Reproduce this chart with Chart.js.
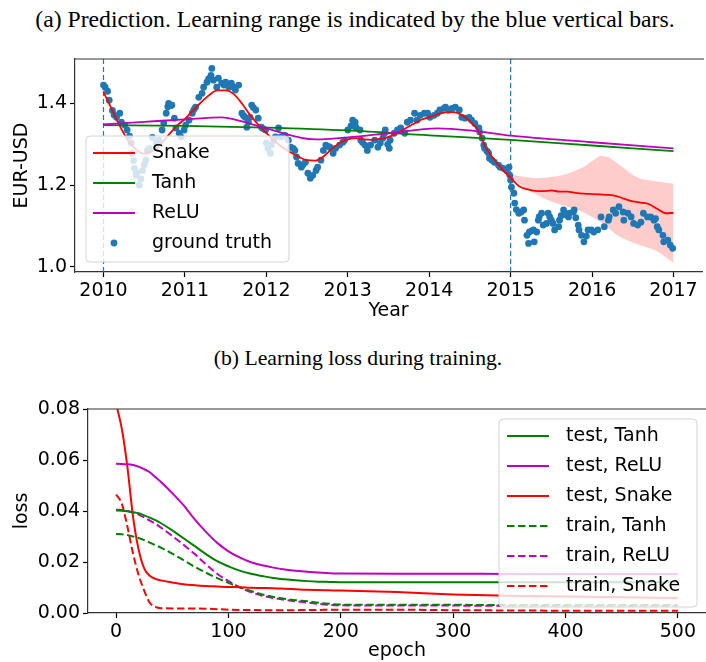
<!DOCTYPE html>
<html>
<head>
<meta charset="utf-8">
<title>Snake activation – EUR-USD</title>
<script src="https://cdn.jsdelivr.net/npm/chart.js@4.4.1/dist/chart.umd.min.js"></script>
<style>
  body { margin: 0; width: 706px; height: 662px; overflow: hidden; background: #fff; position: relative; }
  .caption { position: absolute; width: 706px; text-align: center; white-space: nowrap;
             font-family: 'Liberation Serif', 'Times New Roman', serif; color: #000; }
  #captionA { left: 2px; top: 8px; font-size: 23.7px; line-height: 23.7px; }
  #captionB { left: 5px; top: 348px; font-size: 21.7px; line-height: 21.7px; }
  canvas { position: absolute; left: 0; }
</style>
</head>
<body>
<div class="caption" id="captionA">(a) Prediction. Learning range is indicated by the blue vertical bars.</div>
<canvas id="priceChart" width="706" height="330" style="top:0"></canvas>
<div class="caption" id="captionB">(b) Learning loss during training.</div>
<canvas id="lossChart" width="706" height="282" style="top:380px"></canvas>
<script>
// ---------- (a) EUR-USD prediction ----------
const truthYears = [
  2010.00, 2010.02, 2010.05, 2010.07, 2010.11, 2010.13, 2010.16, 2010.20, 2010.22, 2010.26,
  2010.29, 2010.32, 2010.34, 2010.35, 2010.37, 2010.38, 2010.40, 2010.41, 2010.44, 2010.46,
  2010.48, 2010.50, 2010.52, 2010.54, 2010.56, 2010.60, 2010.65, 2010.68, 2010.72, 2010.74,
  2010.77, 2010.79, 2010.80, 2010.83, 2010.84, 2010.87, 2010.89, 2010.93, 2010.95, 2010.99,
  2011.01, 2011.05, 2011.09, 2011.11, 2011.13, 2011.17, 2011.21, 2011.23, 2011.27, 2011.29,
  2011.32, 2011.33, 2011.35, 2011.39, 2011.41, 2011.45, 2011.48, 2011.50, 2011.54, 2011.57,
  2011.60, 2011.62, 2011.66, 2011.70, 2011.72, 2011.74, 2011.76, 2011.78, 2011.80, 2011.82,
  2011.84, 2011.87, 2011.90, 2011.94, 2011.96, 2011.99, 2012.00, 2012.02, 2012.05, 2012.06,
  2012.09, 2012.11, 2012.15, 2012.18, 2012.21, 2012.23, 2012.27, 2012.30, 2012.33, 2012.35,
  2012.37, 2012.39, 2012.43, 2012.45, 2012.48, 2012.51, 2012.54, 2012.57, 2012.61, 2012.63,
  2012.67, 2012.70, 2012.73, 2012.76, 2012.78, 2012.82, 2012.85, 2012.90, 2012.94, 2012.96,
  2013.00, 2013.04, 2013.06, 2013.09, 2013.10, 2013.15, 2013.16, 2013.18, 2013.21, 2013.24,
  2013.28, 2013.33, 2013.37, 2013.40, 2013.43, 2013.45, 2013.46, 2013.49, 2013.51, 2013.52,
  2013.57, 2013.61, 2013.65, 2013.70, 2013.73, 2013.77, 2013.82, 2013.85, 2013.89, 2013.94,
  2013.98, 2014.01, 2014.06, 2014.10, 2014.13, 2014.18, 2014.20, 2014.24, 2014.28, 2014.32,
  2014.37, 2014.40, 2014.44, 2014.49, 2014.52, 2014.56, 2014.61, 2014.62, 2014.65, 2014.67,
  2014.68, 2014.71, 2014.73, 2014.74, 2014.77, 2014.80, 2014.85, 2014.87, 2014.91, 2014.95,
  2014.98, 2014.99, 2015.00, 2015.01, 2015.04, 2015.05, 2015.07, 2015.10, 2015.13, 2015.16,
  2015.17, 2015.20, 2015.22, 2015.23, 2015.26, 2015.28, 2015.29, 2015.32, 2015.34, 2015.35,
  2015.38, 2015.40, 2015.44, 2015.46, 2015.48, 2015.50, 2015.52, 2015.54, 2015.59, 2015.60,
  2015.62, 2015.65, 2015.68, 2015.71, 2015.72, 2015.77, 2015.78, 2015.80, 2015.83, 2015.84,
  2015.87, 2015.90, 2015.93, 2015.95, 2015.99, 2016.02, 2016.07, 2016.11, 2016.15, 2016.20,
  2016.21, 2016.26, 2016.29, 2016.33, 2016.38, 2016.39, 2016.44, 2016.48, 2016.51, 2016.56,
  2016.60, 2016.63, 2016.68, 2016.72, 2016.76, 2016.78, 2016.80, 2016.82, 2016.87, 2016.88,
  2016.93, 2016.96, 2016.99
];
const truthRates = [
  1.445, 1.440, 1.430, 1.408, 1.383, 1.372, 1.366, 1.376, 1.354, 1.347,
  1.335, 1.320, 1.303, 1.278, 1.260, 1.241, 1.225, 1.229, 1.200, 1.215,
  1.236, 1.250, 1.261, 1.285, 1.290, 1.317, 1.305, 1.310, 1.335, 1.352,
  1.376, 1.392, 1.400, 1.395, 1.396, 1.364, 1.340, 1.327, 1.318, 1.335,
  1.347, 1.359, 1.376, 1.385, 1.391, 1.415, 1.425, 1.440, 1.452, 1.460,
  1.469, 1.486, 1.457, 1.440, 1.462, 1.450, 1.445, 1.452, 1.440, 1.450,
  1.440, 1.433, 1.445, 1.376, 1.370, 1.366, 1.342, 1.355, 1.366, 1.396,
  1.390, 1.384, 1.364, 1.342, 1.338, 1.335, 1.303, 1.290, 1.278, 1.298,
  1.310, 1.318, 1.340, 1.318, 1.320, 1.322, 1.310, 1.293, 1.290, 1.285,
  1.269, 1.253, 1.244, 1.250, 1.256, 1.229, 1.217, 1.224, 1.236, 1.244,
  1.261, 1.285, 1.298, 1.295, 1.293, 1.278, 1.290, 1.298, 1.305, 1.310,
  1.335, 1.345, 1.359, 1.354, 1.342, 1.335, 1.310, 1.305, 1.298, 1.285,
  1.298, 1.310, 1.293, 1.303, 1.315, 1.327, 1.335, 1.300, 1.290, 1.310,
  1.327, 1.335, 1.340, 1.327, 1.354, 1.359, 1.376, 1.359, 1.371, 1.376,
  1.376, 1.366, 1.371, 1.376, 1.384, 1.388, 1.391, 1.384, 1.388, 1.391,
  1.384, 1.366, 1.364, 1.366, 1.359, 1.351, 1.340, 1.330, 1.315, 1.298,
  1.290, 1.283, 1.278, 1.266, 1.261, 1.256, 1.249, 1.244, 1.241, 1.236,
  1.244, 1.224, 1.212, 1.195, 1.180, 1.156, 1.140, 1.131, 1.134, 1.139,
  1.114, 1.077, 1.057, 1.085, 1.088, 1.090, 1.061, 1.085, 1.114, 1.122,
  1.131, 1.102, 1.106, 1.131, 1.122, 1.114, 1.106, 1.090, 1.098, 1.114,
  1.125, 1.139, 1.127, 1.122, 1.131, 1.134, 1.139, 1.120, 1.102, 1.090,
  1.077, 1.061, 1.075, 1.090, 1.090, 1.085, 1.090, 1.122, 1.098, 1.114,
  1.122, 1.139, 1.131, 1.147, 1.134, 1.114, 1.131, 1.122, 1.106, 1.102,
  1.109, 1.131, 1.122, 1.122, 1.114, 1.118, 1.098, 1.090, 1.077, 1.061,
  1.065, 1.053, 1.045
];

const snakeYears = [
  2010.0, 2010.1, 2010.2, 2010.3, 2010.4, 2010.5, 2010.6, 2010.7, 2010.8, 2010.9,
  2011.0, 2011.1, 2011.2, 2011.3, 2011.4, 2011.5, 2011.6, 2011.7, 2011.8, 2011.9,
  2012.0, 2012.1, 2012.2, 2012.3, 2012.4, 2012.5, 2012.6, 2012.7, 2012.8, 2012.9,
  2013.0, 2013.1, 2013.2, 2013.3, 2013.4, 2013.5, 2013.6, 2013.7, 2013.8, 2013.9,
  2014.0, 2014.1, 2014.2, 2014.3, 2014.4, 2014.5, 2014.6, 2014.7, 2014.8, 2014.9,
  2015.0, 2015.1, 2015.2, 2015.3, 2015.4, 2015.5, 2015.6, 2015.7, 2015.8, 2015.9,
  2016.0, 2016.1, 2016.2, 2016.3, 2016.4, 2016.5, 2016.6, 2016.7, 2016.8, 2016.9,
  2017.0
];
const snakeRates = [
  1.428, 1.387, 1.345, 1.310, 1.287, 1.277, 1.283, 1.300, 1.323, 1.345,
  1.362, 1.383, 1.403, 1.421, 1.432, 1.432, 1.423, 1.400, 1.372, 1.348,
  1.328, 1.308, 1.292, 1.280, 1.269, 1.261, 1.260, 1.270, 1.288, 1.303,
  1.312, 1.315, 1.312, 1.311, 1.313, 1.318, 1.326, 1.338, 1.349, 1.360,
  1.367, 1.373, 1.378, 1.379, 1.372, 1.356, 1.334, 1.290, 1.262, 1.238,
  1.218, 1.198, 1.190, 1.186, 1.185, 1.187, 1.184, 1.184, 1.181, 1.179,
  1.178, 1.177, 1.176, 1.173, 1.166, 1.160, 1.157, 1.153, 1.142, 1.131,
  1.132
];

const bandYears = [
  2015.0, 2015.1, 2015.2, 2015.3, 2015.4, 2015.5, 2015.6, 2015.7, 2015.8, 2015.9,
  2016.0, 2016.1, 2016.2, 2016.3, 2016.4, 2016.5, 2016.6, 2016.7, 2016.8, 2016.9,
  2017.0
];
const bandUpper = [
  1.226, 1.222, 1.219, 1.217, 1.218, 1.220, 1.223, 1.228, 1.236, 1.245,
  1.259, 1.272, 1.269, 1.255, 1.240, 1.225, 1.215, 1.212, 1.209, 1.206,
  1.204
];
const bandLower = [
  1.222, 1.205, 1.190, 1.178, 1.168, 1.160, 1.153, 1.147, 1.141, 1.133,
  1.122, 1.110, 1.095, 1.078, 1.067, 1.059, 1.052, 1.046, 1.038, 1.024,
  1.009
];

const tanhYears = [2010, 2011, 2012, 2013, 2014, 2015, 2016, 2017];
const tanhRates = [1.347, 1.345, 1.341, 1.334, 1.322, 1.311, 1.297, 1.283];

const reluYears = [2010, 2010.5, 2011, 2011.45, 2011.7, 2012, 2012.6, 2013, 2013.5, 2014.1, 2014.5, 2015, 2016, 2017];
const reluRates = [1.349, 1.355, 1.361, 1.366, 1.356, 1.339, 1.312, 1.317, 1.327, 1.339, 1.334, 1.321, 1.305, 1.290];

const learningRange = [2010, 2015];
const yearTicks = [2010, 2011, 2012, 2013, 2014, 2015, 2016, 2017];
const rateTicks = [1.0, 1.2, 1.4];
const yearLimits = [2009.65, 2017.35];
const rateLimits = [0.987, 1.509];

// ---------- (b) loss curves ----------
const epochs = [0, 5, 10, 15, 20, 25, 30, 35, 40, 50, 60, 70, 80, 90, 100, 110, 120, 130, 140, 150,
                160, 170, 180, 190, 200, 250, 300, 350, 400, 450, 500];
const testTanh = [0.0402, 0.0401, 0.0399, 0.0395, 0.0391, 0.0383, 0.0374, 0.0364, 0.0352, 0.0324,
                  0.0293, 0.0262, 0.0231, 0.0203, 0.0183, 0.0166, 0.0154, 0.0145, 0.0137, 0.0132,
                  0.0128, 0.0125, 0.0123, 0.0122, 0.0121, 0.0121, 0.0121, 0.0121, 0.0121, 0.0121, 0.0121];
const testRelu = [0.0585, 0.0584, 0.0583, 0.0580, 0.0574, 0.0564, 0.0552, 0.0533, 0.0514, 0.0470,
                  0.0423, 0.0367, 0.0318, 0.0275, 0.0242, 0.0218, 0.0199, 0.0187, 0.0178, 0.0171,
                  0.0166, 0.0162, 0.0159, 0.0156, 0.0155, 0.0154, 0.0154, 0.0153, 0.0153, 0.0153, 0.0153];
const testSnake = [0.0820, 0.0725, 0.0575, 0.0380, 0.0250, 0.0175, 0.0146, 0.0134, 0.0128, 0.0120,
                   0.0113, 0.0109, 0.0106, 0.0104, 0.0102, 0.0101, 0.0099, 0.0098, 0.0097, 0.0095,
                   0.0093, 0.0091, 0.0090, 0.0089, 0.0088, 0.0082, 0.0073, 0.0068, 0.0065, 0.0062, 0.0059];
const trainTanh = [0.0310, 0.0309, 0.0306, 0.0300, 0.0294, 0.0286, 0.0276, 0.0266, 0.0256, 0.0233,
                   0.0207, 0.0181, 0.0158, 0.0137, 0.0118, 0.0101, 0.0086, 0.0073, 0.0063, 0.0056,
                   0.0050, 0.0046, 0.0040, 0.0036, 0.0033, 0.0032, 0.0032, 0.0031, 0.0031, 0.0031, 0.0031];
const trainRelu = [0.0405, 0.0404, 0.0400, 0.0394, 0.0386, 0.0375, 0.0362, 0.0350, 0.0335, 0.0302,
                   0.0268, 0.0231, 0.0191, 0.0154, 0.0125, 0.0101, 0.0082, 0.0068, 0.0059, 0.0052,
                   0.0046, 0.0041, 0.0036, 0.0032, 0.0030, 0.0029, 0.0029, 0.0028, 0.0028, 0.0028, 0.0028];
const trainSnake = [0.0465, 0.0430, 0.0340, 0.0235, 0.0150, 0.0088, 0.0040, 0.0024, 0.0019, 0.0018,
                    0.0018, 0.0018, 0.0017, 0.0015, 0.0013, 0.0012, 0.0012, 0.0011, 0.0011, 0.0011,
                    0.0011, 0.0012, 0.0012, 0.0013, 0.0013, 0.0013, 0.0011, 0.0010, 0.0009, 0.0009, 0.0009];
const epochTicks = [0, 100, 200, 300, 400, 500];
const lossTicks = [0.00, 0.02, 0.04, 0.06, 0.08];
const epochLimits = [-25, 525];
const lossLimits = [0, 0.08];

// ---------- shared styling ----------
const FONT = "'DejaVu Sans', 'Liberation Sans', sans-serif";
const SPINE = '#333';
const BLUE = '#1f77b4', RED = '#ff0000', GREEN = '#008000', MAGENTA = '#bf00bf';

const pairs = (xs, ys) => xs.map((x, i) => ({ x: x, y: ys[i] }));

// top spine of the axes frame (matplotlib style)
const frameTop = {
  id: 'frameTop',
  afterDatasetsDraw(chart) {
    const { ctx, chartArea: a } = chart;
    ctx.save();
    ctx.strokeStyle = SPINE;
    ctx.lineWidth = 1.2;
    ctx.beginPath();
    ctx.moveTo(a.left, a.top);
    ctx.lineTo(a.right + 2, a.top);
    ctx.stroke();
    ctx.restore();
  }
};

// boxed legend drawn inside the plot, semi transparent like matplotlib
const boxLegend = {
  id: 'boxLegend',
  afterDatasetsDraw(chart, args, o) {
    const ctx = chart.ctx;
    ctx.save();
    ctx.beginPath();
    ctx.roundRect(o.x, o.y, o.w, o.h, 4);
    ctx.fillStyle = 'rgba(255,255,255,0.8)';
    ctx.fill();
    ctx.strokeStyle = '#d4d4d4';
    ctx.lineWidth = 1;
    ctx.stroke();
    ctx.font = '19px ' + FONT;
    ctx.textBaseline = 'middle';
    o.labels.forEach((label, i) => {
      const ds = chart.data.datasets.find(d => d.label === label);
      const y = o.firstRow + i * o.rowGap;
      if (ds.showLine) {
        ctx.strokeStyle = ds.borderColor;
        ctx.lineWidth = ds.borderWidth;
        ctx.setLineDash(ds.borderDash || []);
        ctx.beginPath();
        ctx.moveTo(o.sampleX, y);
        ctx.lineTo(o.sampleX + o.sampleW, y);
        ctx.stroke();
        ctx.setLineDash([]);
      } else {
        ctx.fillStyle = ds.backgroundColor;
        ctx.beginPath();
        ctx.arc(o.sampleX + o.sampleW / 2, y, ds.pointRadius, 0, Math.PI * 2);
        ctx.fill();
      }
      ctx.fillStyle = '#000';
      ctx.fillText(label, o.textX, y);
    });
    ctx.restore();
  }
};

function axis(limits, ticks, fmt, size, title, titlePad) {
  const horizontal = size.height !== undefined;
  return {
    type: 'linear',
    min: limits[0],
    max: limits[1],
    afterBuildTicks: s => { s.ticks = ticks.map(v => ({ value: v })); },
    afterFit: s => { if (horizontal) s.height = size.height; else s.width = size.width; },
    ticks: {
      font: { family: FONT, size: 19 },
      color: '#000',
      padding: 3,
      maxRotation: 0,
      minRotation: 0,
      autoSkip: false,
      callback: fmt
    },
    grid: { drawOnChartArea: false, drawTicks: true, tickLength: 5, tickColor: '#000', tickWidth: 1.2 },
    border: { display: true, color: SPINE, width: 1.2 },
    title: {
      display: true,
      text: title,
      color: '#000',
      font: { family: FONT, size: 19 },
      padding: titlePad
    }
  };
}

function vline(x) {
  return {
    label: 'learning bound ' + x,
    data: [{ x: x, y: rateLimits[0] }, { x: x, y: rateLimits[1] }],
    showLine: true,
    borderColor: BLUE,
    borderWidth: 1.2,
    borderDash: [5, 3],
    pointRadius: 0,
    order: 3
  };
}

function line(label, xs, ys, color, width, order, dash) {
  return {
    label: label,
    data: pairs(xs, ys),
    showLine: true,
    borderColor: color,
    borderWidth: width,
    borderDash: dash || [],
    pointRadius: 0,
    cubicInterpolationMode: 'monotone',
    order: order
  };
}

new Chart(document.getElementById('priceChart'), {
  type: 'scatter',
  data: {
    datasets: [
      line('Snake', snakeYears, snakeRates, RED, 1.8, 2),
      line('Tanh', tanhYears, tanhRates, GREEN, 1.8, 1),
      line('ReLU', reluYears, reluRates, MAGENTA, 1.8, 0),
      vline(learningRange[0]),
      vline(learningRange[1]),
      {
        label: 'ground truth',
        data: pairs(truthYears, truthRates),
        showLine: false,
        backgroundColor: BLUE,
        borderWidth: 0,
        pointRadius: 3.4,
        order: 4
      },
      {
        label: 'Snake band upper',
        data: pairs(bandYears, bandUpper),
        showLine: true,
        borderWidth: 0,
        borderColor: 'rgba(0,0,0,0)',
        pointRadius: 0,
        fill: false,
        order: 5
      },
      {
        label: 'Snake band lower',
        data: pairs(bandYears, bandLower),
        showLine: true,
        borderWidth: 0,
        borderColor: 'rgba(0,0,0,0)',
        backgroundColor: 'rgba(255,0,0,0.2)',
        pointRadius: 0,
        fill: '-1',
        order: 5
      }
    ]
  },
  options: {
    responsive: false,
    animation: false,
    layout: { padding: { top: 59, left: 0, right: 0, bottom: 0 } },
    scales: {
      x: axis(yearLimits, yearTicks, v => String(v), { height: 58 }, 'Year', { top: 0, bottom: 8 }),
      y: axis(rateLimits, rateTicks, v => v.toFixed(1), { width: 75 }, 'EUR-USD', { top: 11, bottom: 0 })
    },
    plugins: {
      legend: { display: false },
      tooltip: { enabled: false },
      boxLegend: {
        x: 86, y: 136, w: 203, h: 126,
        sampleX: 93, sampleW: 42, textX: 152, firstRow: 153, rowGap: 30,
        labels: ['Snake', 'Tanh', 'ReLU', 'ground truth']
      }
    }
  },
  plugins: [frameTop, boxLegend]
});

new Chart(document.getElementById('lossChart'), {
  type: 'scatter',
  data: {
    datasets: [
      line('test, Tanh', epochs, testTanh, GREEN, 2, 1),
      line('test, ReLU', epochs, testRelu, MAGENTA, 2, 1),
      line('test, Snake', epochs, testSnake, RED, 2, 1),
      line('train, Tanh', epochs, trainTanh, GREEN, 2, 1, [7.5, 3.5]),
      line('train, ReLU', epochs, trainRelu, MAGENTA, 2, 1, [7.5, 3.5]),
      line('train, Snake', epochs, trainSnake, RED, 2, 1, [7.5, 3.5])
    ]
  },
  options: {
    responsive: false,
    animation: false,
    layout: { padding: { top: 29, left: 0, right: 0, bottom: 0 } },
    scales: {
      x: axis(epochLimits, epochTicks, v => String(v), { height: 49 }, 'epoch', { top: 0, bottom: 0 }),
      y: axis(lossLimits, lossTicks, v => v.toFixed(2), { width: 88 }, 'loss', { top: 11, bottom: 0 })
    },
    plugins: {
      legend: { display: false },
      tooltip: { enabled: false },
      boxLegend: {
        x: 499, y: 39, w: 198, h: 188,
        sampleX: 507, sampleW: 42, textX: 566, firstRow: 56, rowGap: 30,
        labels: ['test, Tanh', 'test, ReLU', 'test, Snake', 'train, Tanh', 'train, ReLU', 'train, Snake']
      }
    }
  },
  plugins: [frameTop, boxLegend]
});
</script>
</body>
</html>
